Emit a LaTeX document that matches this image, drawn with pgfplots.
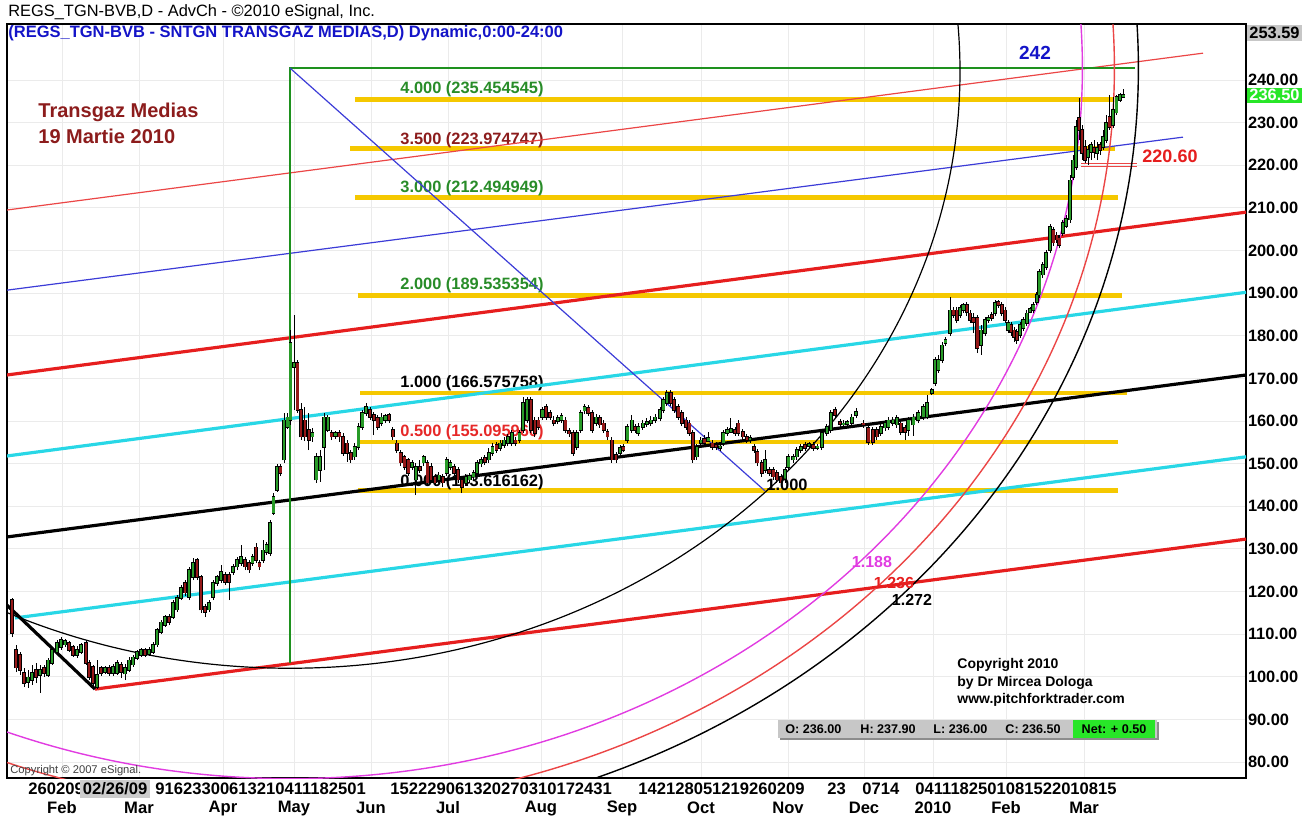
\documentclass[border=0pt]{standalone}
\usepackage{pgfplots}
\pgfplotsset{compat=1.18}
\usepackage{pgfplotstable}
\usepackage{fontspec}
\setmainfont{Liberation Sans}
\definecolor{upg}{RGB}{40,155,40}
\definecolor{dnr}{RGB}{150,25,25}
\definecolor{fibY}{RGB}{245,200,0}
\definecolor{fibG}{RGB}{40,140,40}
\definecolor{pfG}{RGB}{30,145,30}
\definecolor{cyn}{RGB}{40,215,230}
\definecolor{rd}{RGB}{230,30,30}
\definecolor{trd}{RGB}{235,70,70}
\definecolor{tbl}{RGB}{60,60,215}
\definecolor{mag}{RGB}{225,60,225}
\definecolor{drd}{RGB}{140,28,28}
\definecolor{ttl}{RGB}{20,20,200}
\definecolor{netg}{RGB}{40,230,40}
\definecolor{lblred}{RGB}{230,40,40}

\pgfplotstableread{
x o h l c
12 118.0 118.5 109.3 110.3
16 106.3 107.5 101.1 102.1
20 105.1 105.8 100.4 101.6
24 100.9 102.1 97.6 98.5
28 98.8 101.6 97.4 99.9
32 99.2 102.8 98.1 100.9
36 101.6 103.2 98.5 99.9
40 100.4 102.8 96.2 101.6
44 102.1 102.8 99.9 100.9
48 100.4 104.4 99.9 103.9
52 103.2 107.0 102.8 106.3
57 105.8 108.6 105.6 107.9
61 107.0 109.3 106.3 108.6
65 107.5 108.9 107.0 108.4
69 107.9 108.4 105.8 106.3
73 107.0 107.5 104.6 105.1
77 105.1 107.2 104.4 106.3
81 105.8 107.9 105.3 107.5
86 107.9 108.4 102.8 103.2
89 103.2 103.9 99.2 99.9
93 102.3 102.8 97.4 98.5
97 97.6 103.9 97.1 100.4
101 102.1 102.5 100.2 100.9
105 101.1 102.5 100.7 102.1
109 102.1 102.8 100.2 100.9
113 100.9 103.0 100.2 102.3
117 100.9 103.9 100.4 103.2
121 102.8 103.5 99.7 101.1
125 100.7 103.0 99.2 102.1
129 101.6 104.6 101.1 103.9
133 102.8 105.1 102.3 104.6
137 104.4 106.3 103.9 105.8
141 105.1 106.7 104.6 106.3
145 106.3 106.7 104.6 105.1
149 105.3 107.0 104.9 106.3
153 105.8 108.2 105.3 107.5
157 107.5 111.4 107.0 111.0
161 110.5 113.3 110.0 112.8
165 112.1 114.5 111.7 114.0
169 114.0 114.7 112.1 112.8
173 114.0 118.0 113.6 117.3
177 115.7 119.2 115.2 118.5
181 118.5 121.5 118.0 120.8
185 122.0 122.7 119.0 119.7
189 118.7 125.8 118.0 125.1
193 123.4 127.9 122.7 126.7
197 127.4 127.9 122.7 123.4
201 123.4 123.9 115.0 115.7
205 116.4 117.1 114.0 115.2
209 115.7 118.0 115.2 117.3
213 118.7 122.7 118.0 122.0
217 122.0 123.9 121.3 123.4
221 122.7 126.2 122.0 124.6
225 123.9 124.6 121.5 122.2
229 123.9 124.6 118.0 122.2
233 124.6 126.5 123.9 125.8
237 125.8 128.1 125.0 127.4
241 126.7 130.9 126.0 128.1
245 127.4 128.1 125.0 125.8
249 126.7 127.4 124.4 125.1
252.5 126.7 128.8 126.0 128.1
256 130.4 131.4 126.7 127.4
259.5 126.7 127.4 125.0 125.8
263 127.4 132.1 126.7 129.7
266.5 129.3 131.6 128.6 131.0
270 129.0 136.8 128.3 136.1
273.5 138.4 143.1 138.0 142.2
277 143.8 149.9 143.4 149.2
280.5 149.2 149.9 147.1 147.8
284 150.9 161.9 150.2 160.2
287.5 158.6 161.9 158.1 160.9
290.5 160.2 181.4 159.1 178.3
294 172.7 184.9 162.6 173.6
297.5 173.6 174.3 161.9 162.6
301.0 162.6 164.2 155.5 156.3
304.8 160.2 163.3 155.3 156.3
308.7 157.9 161.9 153.2 155.5
312.5 156.3 158.4 155.1 157.2
316.3 146.2 152.5 145.5 151.6
320.2 148.5 153.2 145.7 151.6
324.0 153.9 161.9 148.5 160.9
327.8 157.9 161.4 157.4 160.9
331.6 157.2 157.9 155.5 156.3
335.5 156.5 157.7 155.8 157.2
339.3 157.2 157.9 155.1 156.3
343.1 156.3 157.2 151.8 152.5
347.0 154.8 155.5 150.4 152.5
350.8 152.5 153.2 150.2 150.9
354.6 151.6 154.8 150.9 153.9
358.5 153.9 159.5 153.2 158.6
362.3 158.6 162.6 157.9 161.9
366.1 161.9 164.2 161.2 163.3
370.0 162.6 163.3 160.2 160.9
373.8 161.4 162.1 156.7 160.2
377.6 160.7 161.4 157.9 158.6
381.4 159.5 161.9 158.8 160.9
385.3 160.2 161.6 159.5 161.2
389.1 161.4 161.9 159.5 160.2
392.9 157.9 158.6 155.5 156.3
396.8 154.8 155.5 152.5 153.2
400.6 152.5 153.2 149.4 150.2
404.4 151.6 152.0 148.5 149.2
408.3 150.9 151.3 147.1 147.8
412.1 149.2 150.9 148.5 150.2
415.9 146.2 150.2 142.6 149.2
419.8 149.2 150.9 147.8 148.5
423.6 150.2 152.0 149.4 151.6
427.4 150.2 150.9 144.8 145.5
431.2 149.2 150.2 145.5 146.2
435.1 146.9 147.6 144.8 145.5
438.9 146.2 148.0 145.5 147.3
442.7 146.9 147.6 144.5 145.5
446.6 147.8 151.6 147.1 150.9
450.4 149.2 150.9 148.5 150.2
454.2 149.2 149.9 147.1 147.8
458.1 148.5 149.2 145.5 146.2
461.9 146.2 146.9 143.1 144.5
465.7 145.5 147.6 144.8 146.9
469.6 146.2 147.8 145.5 147.1
473.4 146.9 148.5 146.2 147.8
477.2 147.8 150.9 147.1 150.2
481.0 150.0 151.6 149.2 150.9
484.9 151.4 152.0 149.7 150.4
488.7 150.9 153.7 150.2 152.5
492.5 152.5 154.8 151.8 153.9
496.4 154.4 155.1 152.5 153.2
500.2 153.7 155.5 153.0 154.8
504.0 154.4 156.3 153.7 155.5
507.9 154.8 157.0 154.1 156.3
511.7 154.8 157.9 154.1 157.2
515.5 155.5 156.3 154.1 154.8
519.4 155.5 157.9 154.8 157.2
523.2 157.9 165.6 157.2 164.2
527.0 160.2 165.6 159.5 164.9
530.8 164.9 165.6 157.2 157.9
534.7 160.2 160.9 156.3 157.2
538.5 160.2 160.9 157.9 158.6
542.3 160.9 163.3 160.2 162.6
546.2 163.3 164.0 160.2 160.9
550.0 161.9 162.6 160.2 160.9
553.8 160.2 161.2 158.8 159.5
557.7 160.0 161.4 159.3 160.7
561.5 160.2 161.9 159.5 161.2
565.3 160.2 160.9 157.2 157.9
569.2 157.7 158.4 156.3 157.0
573.0 157.2 157.9 151.8 152.5
576.8 153.9 157.9 153.2 157.2
580.6 157.9 162.6 157.2 161.9
584.5 162.4 164.0 161.6 163.3
588.3 163.1 163.8 161.2 161.9
592.1 161.9 162.6 157.2 157.9
596.0 159.5 161.6 158.8 160.9
599.8 160.7 161.4 158.4 159.1
603.6 159.5 160.2 157.2 157.9
607.5 157.4 158.1 155.5 156.3
611.7 155.5 156.3 150.2 150.9
616.0 152.0 152.7 150.2 150.9
620.0 152.5 154.4 151.8 153.7
623.3 153.9 154.6 152.7 153.2
627.3 155.5 159.3 154.8 158.6
631.7 157.9 161.4 157.2 160.2
635.0 158.6 159.3 157.2 157.9
638.3 157.2 159.5 156.5 158.6
642.7 158.6 160.2 157.9 159.5
646.7 159.3 160.7 158.6 159.8
650.7 159.5 161.2 158.8 160.2
655.0 160.2 161.6 159.5 160.9
660.0 160.7 163.3 160.0 162.6
663.3 162.6 165.6 161.9 164.9
666.7 164.2 167.3 163.5 166.6
670.7 166.6 167.3 163.5 164.2
674.0 164.9 165.6 161.9 162.6
678.3 163.3 164.0 160.2 160.9
681.7 161.9 162.6 158.8 159.5
686.0 160.2 160.9 157.9 158.6
689.3 159.5 160.2 156.5 157.2
692.7 157.2 157.9 150.2 150.9
696.7 151.6 154.6 150.9 153.9
700.7 154.8 156.3 154.1 155.5
704.3 155.8 156.7 154.4 154.8
708.3 155.3 157.4 155.1 156.0
712.3 154.8 155.5 153.2 153.9
716.0 154.4 155.1 153.2 153.9
720.0 153.7 154.8 153.0 154.1
723.3 154.8 157.9 154.1 157.2
727.3 157.2 158.6 156.5 157.9
730.7 157.4 160.7 157.2 158.1
735.0 157.9 158.6 156.5 157.2
738.3 159.5 160.2 156.5 157.2
742.7 157.4 158.1 155.5 156.3
746.7 156.3 157.0 154.8 155.5
750.0 155.5 156.7 154.8 156.0
754.0 153.9 154.6 152.5 153.2
757.3 152.7 153.4 149.4 150.2
761.7 150.2 150.9 146.9 147.8
765.0 148.5 153.2 147.8 150.9
769.3 148.5 149.2 147.1 147.8
773.3 148.5 149.2 146.2 146.9
776.7 147.8 148.5 145.5 146.2
781.0 146.9 147.6 144.5 145.5
785.0 146.2 149.2 145.5 148.5
788.3 149.2 152.3 148.5 151.6
793.3 150.9 152.3 150.2 151.6
796.7 151.6 153.9 150.9 153.2
800.7 153.2 154.6 152.5 153.9
805.0 154.4 155.1 153.0 153.7
809.0 154.1 155.1 153.7 154.6
813.3 154.4 155.1 153.0 153.7
817.3 153.7 154.6 153.2 154.1
821.7 153.9 157.9 153.2 157.2
826.7 157.2 159.3 156.5 158.6
830.7 157.9 162.6 157.2 161.9
835.0 162.6 163.3 160.7 161.4
840.0 159.8 160.5 158.6 159.3
843.3 159.1 160.2 158.4 159.5
847.3 159.3 160.2 158.8 159.8
851.7 159.5 161.6 158.8 160.9
856.0 161.4 163.1 160.7 162.1
863.3 159.5 160.2 158.4 159.1
868.3 158.4 159.1 154.4 155.1
872.7 157.9 158.6 154.4 155.1
876.7 157.9 158.6 155.5 156.3
880.7 157.2 159.3 156.5 158.6
885.0 158.4 160.2 157.7 159.5
888.3 158.6 160.9 157.9 160.2
892.7 159.5 160.9 158.8 160.2
896.7 159.1 161.4 158.4 160.7
900.7 159.5 160.2 156.7 157.4
905.0 158.4 159.1 155.5 157.4
908.3 157.9 160.9 156.5 160.2
913.3 159.1 161.6 156.5 160.9
918.3 160.2 162.6 159.5 161.9
923.3 160.9 164.0 160.2 163.3
927.0 160.9 166.1 160.4 164.2
931.7 166.6 167.7 166.1 167.3
935.0 168.9 175.0 168.2 174.3
938.5 172.0 175.5 171.3 174.3
942.0 174.3 178.5 173.6 177.8
945.5 178.3 179.7 177.6 179.0
950.0 180.6 189.1 179.9 186.0
953.3 186.0 186.7 184.2 184.9
956.7 186.0 186.7 183.0 183.7
960.0 184.9 187.2 184.2 186.5
963.3 186.0 187.7 185.3 187.2
966.7 187.2 187.9 184.6 185.6
970.0 185.3 186.0 183.0 183.7
973.3 184.2 185.3 180.6 183.2
977.3 184.2 184.9 175.9 177.1
981.0 177.8 182.5 175.5 181.3
985.0 180.6 184.4 179.9 183.7
988.3 183.7 184.9 183.0 184.2
991.7 184.9 185.6 183.5 184.2
995.0 185.3 188.4 184.6 187.7
998.3 187.9 188.4 186.5 187.2
1001.7 187.2 187.9 184.6 185.3
1005.0 186.0 186.7 183.0 183.7
1008.3 181.3 183.7 180.6 183.0
1011.0 182.5 183.2 179.9 180.9
1014.0 181.3 182.0 178.5 179.7
1016.7 180.9 181.6 178.1 179.0
1020.0 180.2 183.2 179.5 182.5
1023.3 181.8 184.4 181.1 183.7
1026.7 183.0 186.0 182.3 185.3
1030.0 185.6 186.7 185.3 186.3
1033.3 186.0 187.9 185.3 187.2
1036.7 187.9 190.3 187.2 189.6
1039.3 189.6 195.7 188.9 195.0
1042.7 194.3 197.3 193.6 196.6
1046.0 196.1 200.1 195.4 199.4
1050.0 200.1 206.2 199.4 205.5
1053.3 204.8 205.5 201.1 201.8
1056.7 203.6 204.3 201.8 202.5
1059.3 202.9 203.6 200.6 201.3
1062.7 204.1 207.2 203.4 206.5
1066.0 205.7 208.3 205.3 207.4
1070.0 207.2 217.7 206.5 216.5
1073.0 217.2 222.4 216.5 221.2
1076.0 219.6 230.6 218.9 229.0
1079.0 231.1 235.8 225.9 228.3
1082.0 228.3 229.4 221.2 222.9
1085.0 224.3 225.9 220.5 221.2
1088.0 221.9 224.8 220.1 223.6
1091.0 223.1 225.5 221.2 224.8
1094.0 224.1 225.9 221.7 223.1
1097.0 222.9 225.5 221.2 224.1
1100.0 224.8 225.5 222.4 223.6
1103.0 224.3 228.3 223.6 226.6
1106.0 225.9 231.8 225.2 229.9
1109.5 231.3 236.5 228.3 229.0
1113.0 229.4 236.0 228.7 233.0
1116.5 232.3 236.5 231.8 236.0
1120.0 235.3 236.9 234.8 236.5
1123.5 236.0 237.9 236.0 236.5
}\candles

\pgfplotsset{
  ebar/.style 2 args={draw=none, mark=none, forget plot, error bars/.cd, y dir=plus, y explicit, error mark=none, error bar style={draw=#1, line width=#2, solid}},
}

\begin{document}
\begin{tikzpicture}
\useasboundingbox (0,0) rectangle (656.5pt,408pt);
\begin{axis}[
  at={(3.5pt,19pt)}, anchor=south west,
  scale only axis, width=619.5pt, height=377pt,
  xmin=7, xmax=1246, ymin=76.25, ymax=253.14,
  clip mode=individual,
  axis line style={black, line width=0.6pt},
  ytick={80,90,...,240},
  yticklabel pos=right,
  yticklabel style={font=\bfseries\fontsize{8.2}{9}\selectfont, anchor=west, inner sep=0.8pt,
    /pgf/number format/fixed, /pgf/number format/fixed zerofill, /pgf/number format/precision=2,
    /pgf/number format/assume math mode=true},
  xtick={62,139,223,294,371,448,541,622,701,788,864,933,1006,1084},
  xticklabels={},
  major tick length=0pt,
  grid=major, grid style={black!8, line width=0.4pt},
]
% Fibonacci horizontal levels
\addplot[fibY, line width=2.4pt] coordinates {(355,235.4545) (1113,235.4545)};
\addplot[fibY, line width=2.4pt] coordinates {(350,223.9747) (1115,223.9747)};
\addplot[fibY, line width=2.4pt] coordinates {(355,212.4949) (1118,212.4949)};
\addplot[fibY, line width=2.4pt] coordinates {(358,189.5354) (1122,189.5354)};
\addplot[fibY, line width=2.4pt] coordinates {(360,166.5758) (1127,166.5758)};
\addplot[fibY, line width=2.4pt] coordinates {(358,155.0960) (1118,155.0960)};
\addplot[fibY, line width=2.4pt] coordinates {(358,143.6162) (1118,143.6162)};
\begin{scope}[every node/.style={anchor=west, inner sep=0pt, font=\bfseries\fontsize{8.2}{9}\selectfont}]
\node[text=fibG] at (axis cs:400,237.9) {4.000 (235.454545)};
\node[text=drd] at (axis cs:400,225.9) {3.500 (223.974747)};
\node[text=fibG] at (axis cs:400,214.7) {3.000 (212.494949)};
\node[text=fibG] at (axis cs:400,191.9) {2.000 (189.535354)};
\node[text=black] at (axis cs:400,168.9) {1.000 (166.575758)};
\node[text=lblred] at (axis cs:400,157.4) {0.500 (155.095960)};
\node[text=black] at (axis cs:400,145.7) {0.000 (143.616162)};
\end{scope}
% pitchfork and parallels
\addplot[trd, line width=0.6pt] coordinates {(7,209.5) (1203,246.3)};
\addplot[tbl, line width=0.6pt] coordinates {(7,190.7) (1183,226.6)};
\addplot[rd, line width=1.6pt] coordinates {(7,170.8) (1246,209.0)};
\addplot[cyn, line width=1.6pt] coordinates {(7,151.8) (1246,190.2)};
\addplot[black, line width=1.6pt] coordinates {(7,132.8) (1246,170.8)};
\addplot[cyn, line width=1.6pt] coordinates {(15,113.8) (1246,151.6)};
\addplot[rd, line width=1.6pt] coordinates {(95,97.1) (1246,132.3)};
\addplot[black, line width=1.6pt] coordinates {(7,116.8) (95,97.1)};
% green frame and diagonal
\addplot[pfG, line width=1.4pt] coordinates {(290,103.2) (290,242.8) (1135,242.8)};
\addplot[tbl, line width=0.6pt] coordinates {(290,242.8) (765,143.6)};
% 220.60 double line
\addplot[trd, line width=0.5pt] coordinates {(1081,220.5) (1137,220.5)};
\addplot[trd, line width=0.5pt] coordinates {(1081,219.7) (1137,219.7)};
% Fibonacci arcs
\begin{scope}
\clip (rel axis cs:0,0) rectangle (rel axis cs:1,1);
\draw[black, line width=0.6pt] (axis cs:290,242.0) ellipse [x radius=670, y radius=140.0];
\draw[mag, line width=0.7pt] (axis cs:290,242.8) ellipse [x radius=792.4, y radius=166.7];
\draw[trd, line width=0.7pt] (axis cs:290,242.8) ellipse [x radius=824.4, y radius=173.4];
\draw[black, line width=0.7pt] (axis cs:290,242.8) ellipse [x radius=848.4, y radius=178.5];
\end{scope}
% candles: wicks
\addplot[ebar={black}{0.5pt}] table[x=x, y=l, y error plus expr=\thisrow{h}-\thisrow{l}] {\candles};
% body outlines
\addplot[ebar={black}{1.9pt}] table[x=x, y expr={min(\thisrow{o},\thisrow{c})-0.15}, y error plus expr={abs(\thisrow{c}-\thisrow{o})+0.3}] {\candles};
% up bodies
\addplot[ebar={upg}{1.2pt}] table[x=x, y=o, y error plus expr={max(\thisrow{c}-\thisrow{o},0)}] {\candles};
% down bodies
\addplot[ebar={dnr}{1.2pt}] table[x=x, y=c, y error plus expr={max(\thisrow{o}-\thisrow{c},0)}] {\candles};
% arc labels
\node[text=black, font=\bfseries\fontsize{8.2}{9}\selectfont] at (axis cs:787,145.0) {1.000};
\node[text=mag, font=\bfseries\fontsize{8}{9}\selectfont] at (axis cs:872,126.9) {1.188};
\node[text=rd, font=\bfseries\fontsize{8}{9}\selectfont] at (axis cs:894,122.0) {1.236};
\node[text=black, font=\bfseries\fontsize{8}{9}\selectfont] at (axis cs:912,118.0) {1.272};
\node[text=ttl, font=\bfseries\fontsize{9.5}{11}\selectfont] at (axis cs:1035,246.3) {242};
\node[text=rd, font=\bfseries\fontsize{9}{10}\selectfont] at (axis cs:1170,222.2) {220.60};
% headline texts
\node[anchor=west, inner sep=0pt, font=\fontsize{8.2}{9}\selectfont] at (axis cs:8,255.95) {REGS\_TGN-BVB,D - AdvCh - ©2010 eSignal, Inc.};
\node[anchor=west, inner sep=0pt, text=ttl, font=\bfseries\fontsize{8.25}{9}\selectfont] at (axis cs:8,251.0) {(REGS\_TGN-BVB - SNTGN TRANSGAZ MEDIAS,D) Dynamic,0:00-24:00};
\node[anchor=west, inner sep=0pt, text=drd, font=\bfseries\fontsize{10}{12}\selectfont] at (axis cs:38,232.3) {Transgaz Medias};
\node[anchor=west, inner sep=0pt, text=drd, font=\bfseries\fontsize{10}{12}\selectfont] at (axis cs:38,226.9) {19 Martie 2010};
% copyright block
\begin{scope}[every node/.style={anchor=west, inner sep=0pt, font=\bfseries\fontsize{7}{8}\selectfont}]
\node at (axis cs:957,102.8) {Copyright 2010};
\node at (axis cs:957,98.5) {by Dr Mircea Dologa};
\node at (axis cs:957,94.6) {www.pitchforktrader.com};
\end{scope}
% OHLC bar
\fill[black!45] (axis cs:780,89.4) rectangle (axis cs:1159,85.1);
\fill[black!22] (axis cs:778,89.9) rectangle (axis cs:1157,85.6);
\fill[netg] (axis cs:1073,89.9) rectangle (axis cs:1155,85.6);
\begin{scope}[every node/.style={anchor=west, inner sep=0pt, font=\bfseries\fontsize{6.3}{7}\selectfont}]
\node at (axis cs:785,87.7) {O: 236.00};
\node at (axis cs:860,87.7) {H: 237.90};
\node at (axis cs:933,87.7) {L: 236.00};
\node at (axis cs:1005,87.7) {C: 236.50};
\node[anchor=center] at (axis cs:1114,87.7) {Net: + 0.50};
\end{scope}
\node[anchor=west, inner sep=0pt, text=black!75, font=\fontsize{5.6}{6}\selectfont] at (axis cs:10,77.9) {Copyright © 2007 eSignal.};
% right side boxes
\node[anchor=west, fill=black!22, inner sep=1pt, font=\bfseries\fontsize{8.2}{9}\selectfont] at (axis cs:1247,251.0) {253.59};
\node[anchor=west, fill=netg, text=white, inner sep=1pt, font=\bfseries\fontsize{8.2}{9}\selectfont] at (axis cs:1247,236.4) {236.50};
% date rows
\begin{scope}[every node/.style={anchor=west, inner sep=0pt, font=\bfseries\fontsize{8.3}{9}\selectfont}]
\node at (axis cs:28,73.67) {260209};
\node[fill=black!20, inner sep=1.2pt] at (axis cs:80,73.67) {02/26/09};
\node at (axis cs:155,73.67) {91623300613210411182501};
\node at (axis cs:390,73.67) {152229061320270310172431};
\node at (axis cs:638,73.67) {142128051219260209};
\node at (axis cs:827,73.67) {23};
\node at (axis cs:862,73.67) {0714};
\node at (axis cs:915,73.67) {0411182501081522010815};
\end{scope}
\begin{scope}[every node/.style={anchor=center, inner sep=0pt, font=\bfseries\fontsize{8.3}{9}\selectfont}]
\node at (axis cs:62,69.2) {Feb};
\node at (axis cs:139,69.2) {Mar};
\node at (axis cs:223,69.2) {Apr};
\node at (axis cs:294,69.2) {May};
\node at (axis cs:371,69.2) {Jun};
\node at (axis cs:448,69.2) {Jul};
\node at (axis cs:541,69.2) {Aug};
\node at (axis cs:622,69.2) {Sep};
\node at (axis cs:701,69.2) {Oct};
\node at (axis cs:788,69.2) {Nov};
\node at (axis cs:864,69.2) {Dec};
\node at (axis cs:933,69.2) {2010};
\node at (axis cs:1006,69.2) {Feb};
\node at (axis cs:1084,69.2) {Mar};
\end{scope}
\end{axis}
\end{tikzpicture}
\end{document}
